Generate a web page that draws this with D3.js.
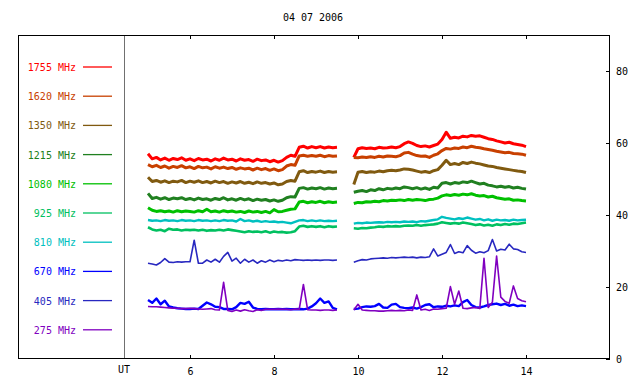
<!DOCTYPE html>
<html>
<head>
<meta charset="utf-8">
<script src="https://cdn.jsdelivr.net/npm/d3@7"></script>
<style>
  body { margin: 0; background: #fff; }
  text { font-family: "DejaVu Sans Mono", monospace; font-size: 10px; }
</style>
</head>
<body>
<svg id="chart" width="640" height="384"></svg>
<script>
// chart data (UT hours, flux units)
const title = '04 07 2006';
const freqs = ['1755', '1620', '1350', '1215', '1080', '925', '810', '670', '405', '275'];
const xTicks = [6, 8, 10, 12, 14];
const yTicks = [0, 20, 40, 60, 80];

// two recording segments sampled every 0.1 h
const timesL = d3.range(0, 46).map(i => +(5.0 + i / 10).toFixed(1));
const timesR = d3.range(0, 42).map(i => +(9.9 + i / 10).toFixed(1));

const s1755L = [57.0, 55.6, 56.0, 55.3, 55.8, 55.2, 55.7, 55.4, 55.9, 55.2,
  55.6, 55.1, 55.7, 55.3, 55.5, 55.0, 55.6, 55.2, 55.8, 55.3,
  55.5, 55.0, 55.6, 55.2, 55.4, 54.9, 55.5, 55.1, 55.3, 54.8,
  55.2, 54.7, 55.1, 56.0, 56.6, 56.3, 58.8, 59.1, 58.6, 59.0,
  58.7, 59.0, 58.6, 58.9, 58.7, 58.8];
const s1755R = [56.0, 58.4, 58.7, 58.5, 58.6, 58.4, 58.8, 58.6, 58.7, 58.9,
  58.7, 59.0, 59.8, 60.3, 59.9, 59.3, 59.0, 59.2, 58.9, 59.3,
  59.7, 61.0, 63.0, 61.3, 61.6, 61.4, 61.9, 61.7, 62.1, 61.9,
  62.0, 61.6, 61.2, 61.0, 60.6, 60.3, 60.0, 60.2, 59.8, 59.6,
  59.4, 59.0];

const s1620L = [54.0, 53.4, 53.8, 53.2, 53.6, 53.0, 53.5, 53.2, 53.7, 53.1,
  53.4, 52.9, 53.5, 53.1, 53.3, 52.8, 53.4, 53.0, 53.3, 52.9,
  53.2, 52.7, 53.1, 52.8, 53.0, 52.5, 53.0, 52.6, 52.9, 52.4,
  52.8, 52.3, 52.6, 53.6, 54.0, 53.8, 56.4, 56.6, 56.3, 56.5,
  56.3, 56.6, 56.2, 56.5, 56.3, 56.4];
const s1620R = [56.0, 55.9, 56.1, 56.0, 56.2, 56.0, 56.3, 56.1, 56.4, 56.3,
  56.2, 56.5, 57.2, 57.4, 56.9, 56.5, 56.3, 56.4, 56.0, 56.6,
  57.0, 57.9, 58.5, 58.3, 58.6, 58.5, 58.9, 58.7, 59.1, 58.8,
  58.7, 58.4, 58.2, 58.0, 57.7, 57.5, 57.3, 57.4, 57.1, 57.0,
  56.9, 56.6];

const s1350L = [50.5, 49.3, 49.6, 49.1, 49.5, 49.0, 49.4, 49.2, 49.6, 49.0,
  49.4, 49.1, 49.5, 49.0, 49.3, 48.9, 49.4, 49.0, 49.3, 48.8,
  49.2, 48.9, 49.3, 48.8, 49.1, 48.7, 49.2, 48.8, 49.0, 48.6,
  48.9, 48.4, 48.6, 49.3, 49.6, 49.4, 52.0, 52.3, 51.8, 52.1,
  51.9, 52.2, 51.8, 52.1, 51.9, 52.0];
const s1350R = [48.5, 51.9, 52.1, 51.8, 52.0, 51.9, 52.2, 52.0, 52.3, 52.4,
  52.3, 52.5, 52.8, 52.7, 52.5, 52.2, 51.9, 52.1, 51.8, 52.3,
  52.6, 53.8, 55.2, 54.0, 54.3, 54.0, 54.6, 54.3, 54.7, 54.4,
  54.2, 53.9, 53.6, 53.5, 53.2, 53.0, 52.8, 52.6, 52.4, 52.2,
  52.1, 51.8];

const s1215L = [46.0, 44.6, 44.9, 44.4, 44.8, 44.3, 44.7, 44.5, 44.8, 44.3,
  44.6, 44.2, 44.7, 44.3, 44.5, 44.1, 44.6, 44.3, 44.8, 44.2,
  44.5, 44.1, 44.6, 44.2, 44.5, 44.0, 44.4, 44.1, 44.3, 43.9,
  44.2, 43.8, 44.1, 44.8, 45.1, 45.0, 47.4, 47.6, 47.2, 47.5,
  47.3, 47.6, 47.2, 47.5, 47.3, 47.4];
const s1215R = [46.3, 46.6, 46.8, 46.5, 47.0, 46.8, 47.3, 47.0, 47.4, 47.2,
  47.5, 47.3, 47.8, 47.6, 47.3, 47.6, 47.2, 47.5, 47.1, 47.7,
  47.5, 48.8, 49.0, 48.6, 49.0, 48.8, 49.2, 49.0, 49.4, 49.0,
  48.6, 48.8, 48.3, 48.1, 47.8, 48.0, 47.7, 47.9, 47.5, 47.7,
  47.4, 47.2];

const s1080L = [42.0, 41.3, 41.0, 41.2, 40.9, 41.1, 40.8, 41.2, 40.9, 41.1,
  41.0, 40.8, 41.2, 40.9, 41.6, 40.9, 41.1, 40.8, 41.2, 40.9,
  41.1, 40.8, 41.0, 40.7, 41.1, 40.8, 41.0, 40.7, 41.0, 40.6,
  41.5, 40.9, 41.0, 41.3, 41.6, 41.7, 43.6, 43.8, 43.4, 43.7,
  43.5, 43.8, 43.4, 43.7, 43.5, 43.6];
const s1080R = [43.2, 43.5, 43.4, 43.7, 43.6, 43.8, 43.7, 44.0, 43.9, 44.1,
  44.0, 44.2, 44.0, 44.3, 44.1, 44.3, 44.2, 44.0, 44.3, 44.4,
  44.7, 45.3, 45.6, 45.4, 45.7, 45.5, 45.8, 45.6, 45.9, 45.5,
  45.3, 45.4, 45.0, 45.2, 44.8, 44.6, 44.4, 44.5, 44.1, 44.2,
  44.0, 43.9];

const s925L = [36.6, 36.0, 35.7, 35.9, 35.5, 36.2, 35.9, 36.0, 35.7, 35.9,
  35.8, 35.9, 35.7, 35.9, 35.6, 35.8, 35.7, 35.9, 35.7, 36.0,
  35.8, 35.6, 35.4, 35.2, 35.5, 35.3, 35.4, 35.2, 35.5, 35.1,
  35.4, 35.2, 35.3, 35.1, 35.2, 35.5, 36.8, 37.0, 36.7, 36.9,
  36.7, 36.9, 36.6, 36.9, 36.7, 36.8];
const s925R = [36.3, 36.2, 36.4, 36.3, 36.5, 36.6, 36.8, 36.7, 36.9, 36.8,
  36.9, 36.8, 37.0, 37.1, 37.0, 37.2, 37.0, 37.2, 37.3, 37.4,
  37.6, 38.0, 37.8, 37.6, 37.8, 37.6, 37.9, 37.7, 37.5, 37.2,
  37.4, 37.1, 37.3, 37.0, 37.4, 37.2, 37.5, 37.3, 37.6, 37.5,
  37.7, 37.9];

const s810L = [38.6, 38.4, 38.5, 38.3, 38.6, 38.4, 38.5, 38.3, 38.6, 38.4,
  38.5, 38.3, 38.6, 38.4, 38.5, 38.3, 38.5, 38.3, 38.6, 38.4,
  38.5, 38.2, 38.9, 38.3, 38.5, 38.2, 38.4, 38.1, 38.3, 38.1,
  38.2, 38.0, 38.1, 37.9, 37.7, 38.1, 38.5, 38.6, 38.3, 38.5,
  38.3, 38.5, 38.3, 38.4, 38.3, 38.4];
const s810R = [37.6, 37.8, 37.7, 37.9, 37.8, 37.9, 38.0, 37.9, 38.1, 38.0,
  38.1, 38.0, 38.2, 38.1, 38.2, 38.0, 38.3, 38.2, 38.4, 38.6,
  38.8, 39.5, 39.2, 39.0, 38.8, 39.1, 38.9, 39.3, 39.0, 38.7,
  38.9, 38.5, 38.8, 38.4, 38.7, 38.5, 38.6, 38.4, 38.7, 38.5,
  38.6, 38.7];

// the low, noisy bright-blue trace
const s670L = [16.4, 15.6, 16.8, 15.2, 16.2, 14.6, 14.3, 14.1, 14.0, 13.9,
  13.9, 14.0, 13.9, 14.8, 15.7, 15.2, 14.5, 14.4, 13.9, 13.9,
  13.8, 14.4, 15.6, 15.3, 15.9, 14.3, 13.9, 13.8, 13.9, 13.8,
  13.8, 13.9, 13.8, 13.9, 13.8, 13.8, 13.9, 13.8, 14.0, 14.6,
  15.5, 16.8, 15.6, 16.0, 14.2, 13.8];
const s670R = [13.9, 14.0, 14.4, 14.6, 14.5, 14.7, 15.3, 14.3, 14.2, 15.1,
  15.3, 14.4, 14.2, 14.1, 14.3, 14.0, 14.4, 15.0, 15.2, 14.4,
  14.6, 14.5, 14.8, 14.6, 14.9, 14.7, 15.8, 16.4, 15.0, 14.4,
  14.3, 14.6, 15.0, 15.2, 15.4, 15.0, 15.3, 14.8, 15.1, 14.7,
  14.9, 14.7];

// the dark-blue trace near 27
const s405L = [26.6, 26.4, 26.1, 26.8, 27.9, 26.9, 26.8, 27.0, 26.9, 27.0,
  27.0, 33.0, 26.6, 26.6, 27.5, 26.9, 27.7, 26.9, 28.5, 29.6,
  27.2, 28.0, 26.6, 27.7, 26.9, 27.5, 26.6, 27.3, 26.9, 27.5,
  27.0, 27.4, 27.2, 27.5, 27.3, 27.6, 27.5, 27.4, 27.5, 27.4,
  27.5, 27.4, 27.5, 27.5, 27.4, 27.5];
const s405R = [26.9, 27.3, 27.6, 27.5, 27.8, 27.9, 28.0, 28.1, 28.0, 28.2,
  28.1, 28.2, 28.3, 28.2, 28.3, 28.1, 28.3, 28.2, 28.4, 30.6,
  28.6, 29.1, 29.6, 31.8, 29.3, 29.8, 29.5, 31.5, 30.2, 29.4,
  29.8, 29.5, 30.1, 33.2, 30.0, 30.5, 30.3, 31.9, 30.6, 30.4,
  29.8, 29.6];

const s275L = [14.6, 14.5, 14.5, 14.4, 14.3, 14.2, 14.1, 14.1, 14.0, 14.0,
  14.1, 14.0, 13.9, 13.8, 13.9, 14.0, 13.7, 13.6, 21.3, 13.5,
  13.2, 13.6, 13.3, 13.7, 13.4, 13.2, 13.7, 13.5, 13.8, 13.8,
  13.8, 13.9, 13.8, 13.8, 13.7, 13.9, 13.8, 20.7, 13.7, 13.6,
  13.6, 13.5, 13.6, 13.6, 13.5, 13.6];
const s275R = [13.6, 15.2, 13.6, 13.5, 13.4, 13.4, 13.3, 13.3, 13.4, 13.5,
  13.4, 13.5, 13.4, 13.6, 13.5, 17.8, 13.6, 13.8, 13.5, 13.9,
  13.8, 14.0, 14.1, 20.1, 15.2, 18.9, 14.1, 14.0, 14.2, 14.3,
  14.0, 28.0, 14.3, 15.8, 28.6, 17.2, 16.0, 15.5, 20.3, 16.8,
  16.2, 15.9];

const seriesL = [s1755L, s1620L, s1350L, s1215L, s1080L, s925L, s810L, s670L, s405L, s275L];
const seriesR = [s1755R, s1620R, s1350R, s1215R, s1080R, s925R, s810R, s670R, s405R, s275R];

// styles
const colors = ['#ff0000', '#c84000', '#805a10', '#208020', '#00c000',
  '#00c060', '#00c0c0', '#0000ff', '#2828c0', '#8000c0'];
const widths = [3, 3, 3, 3, 3, 2.6, 2.4, 2.4, 1.6, 1.6];

const W = 640, H = 384;
const margin = {top: 35, right: 30, bottom: 25, left: 18};

const svg = d3.select('#chart');

const x = d3.scaleLinear()
  .domain([16 - (W - margin.left - margin.right) / 42, 16])
  .range([margin.left, W - margin.right]);
const y = d3.scaleLinear()
  .domain([0, 90])
  .range([H - margin.bottom, margin.top]);

// title
svg.append('text')
  .attr('x', 313)
  .attr('y', 21)
  .attr('text-anchor', 'middle')
  .text(title);

// separator between legend panel and data
svg.append('line')
  .attr('x1', x(4.45)).attr('x2', x(4.45))
  .attr('y1', margin.top).attr('y2', H - margin.bottom)
  .attr('stroke', '#707070')
  .attr('shape-rendering', 'crispEdges');

// axes, ticks inward like the original
const xBottom = svg.append('g')
  .attr('transform', `translate(0,${H - margin.bottom})`)
  .call(d3.axisBottom(x).tickValues(xTicks).tickSizeInner(-4).tickSizeOuter(0).tickPadding(9));
const xTop = svg.append('g')
  .attr('transform', `translate(0,${margin.top})`)
  .call(d3.axisTop(x).tickValues(xTicks).tickSizeInner(-4).tickSizeOuter(0).tickFormat(''));
const yRight = svg.append('g')
  .attr('transform', `translate(${W - margin.right},0)`)
  .call(d3.axisRight(y).tickValues(yTicks).tickSizeInner(-4).tickSizeOuter(0).tickPadding(6));

[xBottom, xTop, yRight].forEach(g => {
  g.select('.domain').remove();
  g.selectAll('text')
    .attr('fill', '#000')
    .style('font-family', '"DejaVu Sans Mono", monospace')
    .style('font-size', '10px');
  g.selectAll('line').attr('shape-rendering', 'crispEdges');
});

svg.append('text')
  .attr('x', 124)
  .attr('y', 373)
  .attr('text-anchor', 'middle')
  .text('UT');

// data traces
const line = d3.line()
  .x(d => x(d[0]))
  .y(d => y(d[1]));

freqs.forEach((f, k) => {
  [[timesL, seriesL[k]], [timesR, seriesR[k]]].forEach(([ts, vs]) => {
    svg.append('path')
      .datum(ts.map((t, i) => [t, vs[i]]))
      .attr('fill', 'none')
      .attr('stroke', colors[k])
      .attr('stroke-width', widths[k])
      .attr('stroke-linejoin', 'round')
      .attr('d', line);
  });
});

// legend
const legendY = d => 67 + 29.2 * d;
const legend = svg.append('g');
freqs.forEach((f, k) => {
  legend.append('text')
    .attr('x', 76)
    .attr('y', legendY(k) + 4)
    .attr('text-anchor', 'end')
    .attr('fill', colors[k])
    .text(`${f} MHz`);
  legend.append('line')
    .attr('x1', 83).attr('x2', 112)
    .attr('y1', legendY(k)).attr('y2', legendY(k))
    .attr('stroke', colors[k])
    .attr('stroke-width', 1.3);
});

// frame
svg.append('rect')
  .attr('x', margin.left + 0.5)
  .attr('y', margin.top + 0.5)
  .attr('width', W - margin.left - margin.right - 1)
  .attr('height', H - margin.top - margin.bottom - 1)
  .attr('fill', 'none')
  .attr('stroke', '#000');
</script>
</body>
</html>
